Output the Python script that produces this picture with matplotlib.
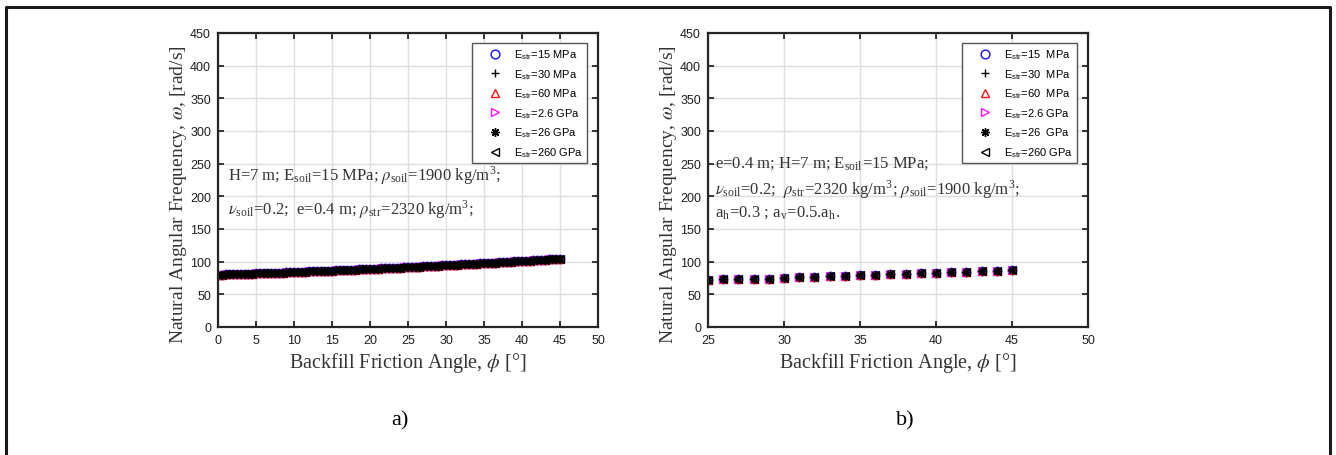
# natural angular frequency vs backfill friction angle
# two panels: a) phi from 0 to 45 deg, b) phi from 25 to 45 deg

import matplotlib
matplotlib.use('Agg')
import matplotlib.pyplot as plt
from matplotlib.lines import Line2D
import numpy as np

plt.rcParams['mathtext.fontset'] = 'stix'

# ---- data ----
# panel a: friction angle every 0.5 deg
phi_a = np.arange(0, 45.5, 0.5)
omega_a = [80.0, 80.2, 80.4, 80.6, 80.8, 81.0, 81.2, 81.4, 81.6, 81.8,
           82.0, 82.2, 82.4, 82.6, 82.8, 83.0, 83.2, 83.4, 83.6, 83.8,
           84.0, 84.3, 84.5, 84.8, 85.0, 85.2, 85.4, 85.7, 85.9, 86.2,
           86.4, 86.7, 86.9, 87.2, 87.4, 87.7, 87.9, 88.2, 88.4, 88.7,
           88.9, 89.2, 89.4, 89.7, 90.0, 90.2, 90.5, 90.8, 91.0, 91.3,
           91.6, 91.9, 92.1, 92.4, 92.7, 93.0, 93.3, 93.6, 93.9, 94.2,
           94.5, 94.8, 95.1, 95.4, 95.7, 96.0, 96.3, 96.6, 97.0, 97.3,
           97.6, 97.9, 98.3, 98.6, 98.9, 99.3, 99.6, 99.9, 100.3, 100.6,
           101.0, 101.3, 101.7, 102.0, 102.4, 102.7, 103.1, 103.4, 103.8, 104.1,
           104.5]

# panel b: friction angle every 1 deg
phi_b = np.arange(25, 46, 1)
omega_b = [72.5, 73.0, 73.2, 73.4, 74.2, 75.3, 76.0, 77.0, 77.3, 78.6,
           79.0, 80.0, 81.0, 81.4, 82.8, 83.0, 84.2, 84.4, 85.8, 86.0,
           87.5]

# all six stiffness cases give (practically) the same curve
labels_a = [r'E$_\mathregular{str}$=15 MPa', r'E$_\mathregular{str}$=30 MPa',
            r'E$_\mathregular{str}$=60 MPa', r'E$_\mathregular{str}$=2.6 GPa',
            r'E$_\mathregular{str}$=26 GPa', r'E$_\mathregular{str}$=260 GPa']
labels_b = [r'E$_\mathregular{str}$=15  MPa', r'E$_\mathregular{str}$=30  MPa',
            r'E$_\mathregular{str}$=60  MPa', r'E$_\mathregular{str}$=2.6 GPa',
            r'E$_\mathregular{str}$=26  GPa', r'E$_\mathregular{str}$=260 GPa']
# matlab style asterisk = 8 spokes
markers = ['o', '+', '^', '>', (8, 2, 0), '<']
colors = ['#1010ff', 'black', '#ff1010', '#ff10ff', 'black', 'black']

ax_col = '#262626'
grid_col = '#dedede'
serif = ['Liberation Serif', 'DejaVu Serif']
sans = ['Liberation Sans', 'DejaVu Sans']

fig = plt.figure(figsize=(13.36, 4.56), dpi=100)

# outer frame (open at the bottom)
W, H = 1336.0, 456.0
frame_x = [6 / W, 6 / W, 1330 / W, 1330 / W]
frame_y = [0.0, 1 - 8 / H, 1 - 8 / H, 0.0]
fig.add_artist(Line2D(frame_x, frame_y, color='#1a1a1a', lw=2.2,
                      transform=fig.transFigure))

ax_a = fig.add_axes([218 / W, 1 - 328 / H, 380 / W, 294 / H])
ax_b = fig.add_axes([708 / W, 1 - 328 / H, 380 / W, 294 / H])


def style_axes(ax, xlim, xticks):
    ax.set_xlim(xlim)
    ax.set_ylim(0, 450)
    ax.set_xticks(xticks)
    ax.set_yticks(np.arange(0, 451, 50))
    ax.grid(True, color=grid_col, lw=1.0)
    ax.set_axisbelow(True)
    ax.tick_params(direction='in', top=True, right=True, length=4, width=1.3,
                   color=ax_col, labelsize=9, labelcolor='#1e1e1e', pad=5)
    for lab in ax.get_xticklabels() + ax.get_yticklabels():
        lab.set_family(sans)
    for sp in ax.spines.values():
        sp.set_linewidth(1.6)
        sp.set_color(ax_col)
    ax.set_xlabel(r'Backfill Friction Angle, $\phi$ [°]', family=serif,
                  fontsize=14.5, color='#333333', labelpad=3)
    ax.set_ylabel(r'Natural Angular Frequency, $\omega$, [rad/s]', family=serif,
                  fontsize=14, color='#333333')
    ax.yaxis.set_label_coords(-0.076, 0.455)


def draw_series(ax, x, y, labels):
    handles = []
    for m, c, lab in zip(markers, colors, labels):
        h, = ax.plot(x, y, linestyle='', marker=m, ms=6, mfc='none',
                     mec=c, mew=1.0, label=lab)
        handles.append(h)
    leg = ax.legend(handles=handles, loc='upper left',
                    bbox_to_anchor=(0.668, 0.966, 0.303, 0.0), mode='expand',
                    prop={'family': sans, 'size': 8}, labelspacing=0.55,
                    handlelength=3.3, handletextpad=0.1, borderpad=0.4,
                    borderaxespad=0.0, fancybox=False, framealpha=1,
                    edgecolor='#555555', markerscale=1.05)
    leg.get_frame().set_linewidth(1.0)


style_axes(ax_a, (0, 50), np.arange(0, 51, 5))
draw_series(ax_a, phi_a, omega_a, labels_a)
txt = dict(family=serif, fontsize=12, color='#333333', va='baseline')
ax_a.text(1.3, 226, r'H=7 m; E$_\mathregular{soil}$=15 MPa; $\rho_\mathregular{soil}$=1900 kg/m$^\mathregular{3}$;', **txt)
ax_a.text(1.3, 173, r'$\nu_\mathregular{soil}$=0.2;  e=0.4 m; $\rho_\mathregular{str}$=2320 kg/m$^\mathregular{3}$;', **txt)

style_axes(ax_b, (25, 50), np.arange(25, 51, 5))
draw_series(ax_b, phi_b, omega_b, labels_b)
ax_b.text(25.45, 245, r'e=0.4 m; H=7 m; E$_\mathregular{soil}$=15 MPa;', **txt)
ax_b.text(25.45, 204, r'$\nu_\mathregular{soil}$=0.2;  $\rho_\mathregular{str}$=2320 kg/m$^\mathregular{3}$; $\rho_\mathregular{soil}$=1900 kg/m$^\mathregular{3}$;', **txt)
ax_b.text(25.45, 170, r'a$_\mathregular{h}$=0.3 ; a$_\mathregular{v}$=0.5.a$_\mathregular{h}$.', **txt)

# panel captions
fig.text(400 / W, 1 - 421 / H, 'a)', family=serif, fontsize=16, ha='center', va='center')
fig.text(905 / W, 1 - 421 / H, 'b)', family=serif, fontsize=16, ha='center', va='center')

fig.savefig('out.png', dpi=100, facecolor='white')
